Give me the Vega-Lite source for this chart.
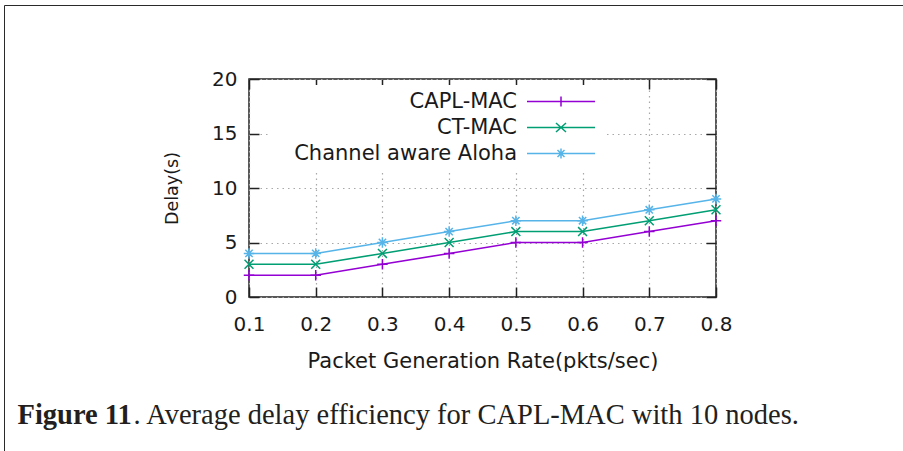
{
  "$schema": "https://vega.github.io/schema/vega-lite/v6.json",
  "width": 467,
  "height": 218,
  "autosize": {"type": "none"},
  "padding": {"left": 249, "top": 79, "right": 187, "bottom": 154},
  "background": "white",
  "config": {
    "view": {"stroke": "#222", "strokeWidth": 1.5},
    "font": "DejaVu Sans"
  },
  "title": {
    "text": "Comparison of Delay with 10 nodes",
    "font": "DejaVu Sans",
    "fontSize": 21,
    "fontWeight": "normal",
    "color": "#1a1a1a",
    "anchor": "middle",
    "offset": 26
  },
  "data": {
    "values": [
      {"rate": 0.1, "series": "CAPL-MAC", "delay": 2},
      {"rate": 0.2, "series": "CAPL-MAC", "delay": 2},
      {"rate": 0.3, "series": "CAPL-MAC", "delay": 3},
      {"rate": 0.4, "series": "CAPL-MAC", "delay": 4},
      {"rate": 0.5, "series": "CAPL-MAC", "delay": 5},
      {"rate": 0.6, "series": "CAPL-MAC", "delay": 5},
      {"rate": 0.7, "series": "CAPL-MAC", "delay": 6},
      {"rate": 0.8, "series": "CAPL-MAC", "delay": 7},
      {"rate": 0.1, "series": "CT-MAC", "delay": 3},
      {"rate": 0.2, "series": "CT-MAC", "delay": 3},
      {"rate": 0.3, "series": "CT-MAC", "delay": 4},
      {"rate": 0.4, "series": "CT-MAC", "delay": 5},
      {"rate": 0.5, "series": "CT-MAC", "delay": 6},
      {"rate": 0.6, "series": "CT-MAC", "delay": 6},
      {"rate": 0.7, "series": "CT-MAC", "delay": 7},
      {"rate": 0.8, "series": "CT-MAC", "delay": 8},
      {"rate": 0.1, "series": "Channel aware Aloha", "delay": 4},
      {"rate": 0.2, "series": "Channel aware Aloha", "delay": 4},
      {"rate": 0.3, "series": "Channel aware Aloha", "delay": 5},
      {"rate": 0.4, "series": "Channel aware Aloha", "delay": 6},
      {"rate": 0.5, "series": "Channel aware Aloha", "delay": 7},
      {"rate": 0.6, "series": "Channel aware Aloha", "delay": 7},
      {"rate": 0.7, "series": "Channel aware Aloha", "delay": 8},
      {"rate": 0.8, "series": "Channel aware Aloha", "delay": 9}
    ]
  },
  "resolve": {"axis": {"x": "independent", "y": "independent"}},
  "layer": [
    {
      "encoding": {
        "x": {
          "field": "rate", "type": "quantitative",
          "scale": {"domain": [0.1, 0.8], "nice": false, "zero": false},
          "axis": {
            "title": "Packet Generation Rate(pkts/sec)",
            "values": [0.1, 0.2, 0.3, 0.4, 0.5, 0.6, 0.7, 0.8],
            "format": ".1f",
            "labelFlush": false,
            "domain": false,
            "ticks": true, "tickSize": -10, "tickColor": "#222", "tickWidth": 1.5,
            "grid": true, "gridColor": "#a8a8a8", "gridDash": [1.5, 4], "gridWidth": 1.2,
            "labelFont": "DejaVu Sans", "labelFontSize": 20, "labelColor": "#1a1a1a", "labelPadding": 27,
            "titleFont": "DejaVu Sans", "titleFontSize": 21, "titleFontWeight": "normal", "titleColor": "#1a1a1a",
            "titlePadding": 16, "titleLimit": 1000
          }
        },
        "y": {
          "field": "delay", "type": "quantitative",
          "scale": {"domain": [0, 20], "nice": false, "zero": true},
          "axis": {
            "title": "Delay(s)",
            "values": [0, 5, 10, 15, 20],
            "domain": false,
            "ticks": true, "tickSize": -10, "tickColor": "#222", "tickWidth": 1.5,
            "grid": true, "gridColor": "#a8a8a8", "gridDash": [1.5, 4], "gridWidth": 1.2,
            "labelFont": "DejaVu Sans", "labelFontSize": 20, "labelColor": "#1a1a1a", "labelPadding": 22,
            "titleFont": "DejaVu Sans", "titleFontSize": 17.5, "titleFontWeight": "normal", "titleColor": "#1a1a1a",
            "titlePadding": 30
          }
        },
        "color": {
          "field": "series", "type": "nominal",
          "scale": {
            "domain": ["CAPL-MAC", "CT-MAC", "Channel aware Aloha"],
            "range": ["#9400d3", "#009e73", "#56b4e9"]
          },
          "legend": {
            "title": null,
            "orient": "none",
            "legendX": 21,
            "legendY": 6,
            "padding": 6,
            "fillColor": "white",
            "rowPadding": 4,
            "labelFont": "DejaVu Sans",
            "labelFontSize": 21,
            "labelColor": "#1a1a1a",
            "labelAlign": "right",
            "labelOffset": 220,
            "labelLimit": 500,
            "symbolSize": 100,
            "symbolStrokeWidth": 1.5,
            "symbolOpacity": 1
          }
        }
      },
      "layer": [
        {"mark": {"type": "line", "strokeWidth": 1.5}},
        {
          "transform": [{"filter": "datum.series === 'CAPL-MAC'"}],
          "mark": {"type": "point", "filled": false, "size": 110, "strokeWidth": 1.5, "opacity": 1, "shape": "M-1,0L1,0M0,-1L0,1"}
        },
        {
          "transform": [{"filter": "datum.series === 'CT-MAC'"}],
          "mark": {"type": "point", "filled": false, "size": 110, "strokeWidth": 1.5, "opacity": 1, "shape": "M-0.85,-0.85L0.85,0.85M-0.85,0.85L0.85,-0.85"}
        },
        {
          "transform": [{"filter": "datum.series === 'Channel aware Aloha'"}],
          "mark": {"type": "point", "filled": false, "size": 110, "strokeWidth": 1.5, "opacity": 1, "shape": "M-1,0L1,0M0,-1L0,1M-0.7,-0.7L0.7,0.7M-0.7,0.7L0.7,-0.7"}
        }
      ]
    },
    {
      "mark": {"type": "point", "opacity": 0},
      "encoding": {
        "x": {
          "field": "rate", "type": "quantitative",
          "axis": {
            "orient": "top",
            "values": [0.1, 0.2, 0.3, 0.4, 0.5, 0.6, 0.7, 0.8],
            "labels": false, "domain": false, "grid": false,
            "ticks": true, "tickSize": -10, "tickColor": "#222", "tickWidth": 1.5,
            "title": ". Average delay efficiency for CAPL-MAC with 10 nodes.",
            "titleFont": "Liberation Serif", "titleFontSize": 28.5, "titleFontWeight": "normal", "titleColor": "#231f20",
            "titleAngle": 0, "titleAlign": "left", "titleBaseline": "alphabetic",
            "titleX": -116, "titleY": 344, "titleLimit": 1000
          }
        },
        "y": {
          "field": "delay", "type": "quantitative",
          "axis": {
            "orient": "right",
            "values": [0, 5, 10, 15, 20],
            "labels": false, "domain": false, "grid": false,
            "ticks": true, "tickSize": -10, "tickColor": "#222", "tickWidth": 1.5,
            "title": "Figure 11",
            "titleFont": "Liberation Serif", "titleFontSize": 28.5, "titleFontWeight": "bold", "titleColor": "#231f20",
            "titleAngle": 0, "titleAlign": "left", "titleBaseline": "alphabetic",
            "titleX": -699, "titleY": 344, "titleLimit": 1000
          }
        },
        "size": {
          "field": "rate", "type": "quantitative",
          "legend": {
            "title": null,
            "orient": "none",
            "legendX": -245,
            "legendY": -74,
            "padding": 470,
            "values": [0.5],
            "labelExpr": "''",
            "strokeColor": "#2a2a2a",
            "encode": {"legend": {"strokeWidth": {"value": 2}}}
          }
        }
      }
    },
    {
      "mark": {"type": "point", "opacity": 0, "filled": false},
      "encoding": {
        "color": {"field": "series", "type": "nominal"},
        "shape": {
          "field": "series", "type": "nominal",
          "scale": {
            "domain": ["CAPL-MAC", "CT-MAC", "Channel aware Aloha"],
            "range": [
              "M48.1,0L61.7,0M54.9,-1L54.9,1",
              "M48.1,0L61.7,0M53.9,-0.9L55.9,0.9M53.9,0.9L55.9,-0.9",
              "M48.1,0L61.7,0M54.9,-1L54.9,1M54.2,-0.7L55.6,0.7M54.2,0.7L55.6,-0.7"
            ]
          },
          "legend": {
            "title": null,
            "orient": "none",
            "legendX": 21,
            "legendY": 6,
            "padding": 6,
            "fillColor": "white",
            "rowPadding": 4,
            "labelFont": "DejaVu Sans",
            "labelFontSize": 21,
            "labelColor": "#1a1a1a",
            "labelAlign": "right",
            "labelOffset": 220,
            "labelLimit": 500,
            "symbolSize": 100,
            "symbolStrokeWidth": 1.5,
            "symbolOpacity": 1
          }
        }
      }
    }
  ]
}
